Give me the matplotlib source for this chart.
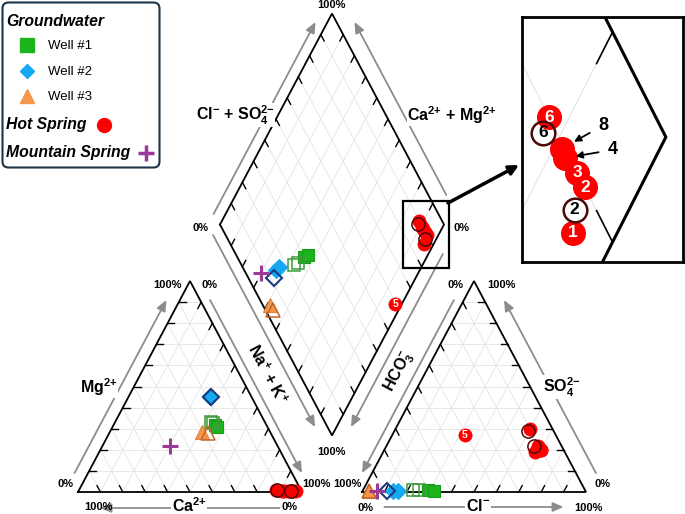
import numpy as np
import matplotlib
matplotlib.use('Agg')
import matplotlib.pyplot as plt
from matplotlib.patches import FancyBboxPatch, Rectangle

plt.rcParams['font.family'] = ['Liberation Sans', 'DejaVu Sans']
plt.rcParams['mathtext.fontset'] = 'custom'
plt.rcParams['mathtext.rm'] = 'Liberation Sans:bold'
plt.rcParams['mathtext.it'] = 'Liberation Sans:bold'
plt.rcParams['mathtext.bf'] = 'Liberation Sans:bold'
plt.rcParams['mathtext.sf'] = 'Liberation Sans:bold'
plt.rcParams['mathtext.default'] = 'rm'

# meq % ; Ca = 100 - Mg - Na(+K), HCO3 = 100 - Cl - SO4
w1_mg = [31.8, 31.0]
w1_na = [45.3, 46.5]
w1_cl = [29.0, 31.7]
w1_so4 = [1.0, 0.5]
w1o_mg = [33.2, 32.5]
w1o_na = [42.6, 44.0]
w1o_cl = [22.3, 25.0]
w1o_so4 = [1.0, 1.0]

w2_mg = [45.5, 45.0]
w2_na = [36.0, 36.5]
w2_cl = [13.8, 16.0]
w2_so4 = [0.5, 0.5]
w2o_mg = [45.0]
w2o_na = [37.0]
w2o_cl = [11.0]
w2o_so4 = [0.5]

w3_mg = [28.6]
w3_na = [41.2]
w3_cl = [2.7]
w3_so4 = [0.5]
w3o_mg = [28.0]
w3o_na = [44.0]
w3o_cl = [3.0]
w3o_so4 = [0.5]

mt_mg = [21.9]
mt_na = [30.0]
mt_cl = [6.5]
mt_so4 = [0.5]

hs_id = ['1', '2', '3', '4', '5', '6', '8']
hs_mg = [0.5, 0.5, 0.6, 0.6, 0.3, 0.8, 0.7]
hs_na = [95.8, 94.8, 93.4, 91.5, 97.0, 88.1, 90.8]
hs_cl = [67.7, 70.0, 70.0, 67.5, 32.5, 60.0, 68.7]
hs_so4 = [19.0, 20.0, 20.0, 22.0, 27.0, 30.0, 21.0]

hso_id = ['2', '6']
hso_mg = [0.5, 0.8]
hso_na = [94.9, 88.3]
hso_cl = [66.0, 59.7]
hso_so4 = [22.0, 29.0]

# geometry (side = 1, gap between triangles = G)
G = 60 / 224.0
H = np.sqrt(3) / 2
SX, SY = 224.0, 243.6


def cat_xy(mg, na):
    mg = np.asarray(mg, float) / 100
    na = np.asarray(na, float) / 100
    return na + 0.5 * mg, H * mg


def an_xy(cl, so4):
    cl = np.asarray(cl, float) / 100
    so4 = np.asarray(so4, float) / 100
    return 1 + G + cl + 0.5 * so4, H * so4


def dia_xy(na, cl, so4):
    a = np.asarray(na, float) / 100
    b = (np.asarray(cl, float) + np.asarray(so4, float)) / 100
    return (1 + G + a + b) / 2, H * (1 + G + b - a)


def c(mg, na):
    return (na + 0.5 * mg, H * mg)


def an(cl, so4):
    return (1 + G + cl + 0.5 * so4, H * so4)


def dm(na, b):
    return ((1 + G + na + b) / 2, H * (1 + G + b - na))


def draw_frame(axx, lw, glw, tlw, tl=0.03):
    grid = []
    ticks = []
    for t in np.arange(1, 10) / 10:
        grid += [(c(t, 0), c(t, 1 - t)), (c(0, t), c(1 - t, t)), (c(0, 1 - t), c(1 - t, 0)),
                 (an(0, t), an(1 - t, t)), (an(t, 0), an(t, 1 - t)), (an(1 - t, 0), an(0, 1 - t)),
                 (dm(t, 0), dm(t, 1)), (dm(0, t), dm(1, t))]
        ticks += [(c(t, 0), (1, 0)), (c(0, t), (-0.5, H)), (c(t, 1 - t), (-0.5, -H)),
                  (an(0, t), (0.5, -H)), (an(t, 0), (0.5, H)), (an(1 - t, t), (-1, 0)),
                  (dm(0, t), (0.5, -H)), (dm(t, 1), (-0.5, -H)),
                  (dm(t, 0), (0.5, H)), (dm(1, t), (-0.5, H))]
    for p, q in grid:
        axx.plot([p[0], q[0]], [p[1], q[1]], color='#e4e4e4', lw=glw, zorder=1)
    for p, v in ticks:
        axx.plot([p[0], p[0] + tl * v[0]], [p[1], p[1] + tl * v[1]], color='black', lw=tlw, zorder=2)
    for poly in ([c(0, 0), c(0, 1), c(1, 0), c(0, 0)],
                 [an(0, 0), an(1, 0), an(0, 1), an(0, 0)],
                 [dm(0, 0), dm(1, 0), dm(1, 1), dm(0, 1), dm(0, 0)]):
        xs, ys = zip(*poly)
        axx.plot(xs, ys, color='black', lw=lw, zorder=3, solid_joinstyle='miter')


def side_arrow(axx, p0, p1, off, f0, f1):
    p0 = np.array(p0)
    p1 = np.array(p1)
    off = np.array(off)
    s = p0 + f0 * (p1 - p0) + off
    e = p0 + f1 * (p1 - p0) + off
    axx.annotate('', xy=e, xytext=s,
                 arrowprops=dict(arrowstyle='-|>,head_length=0.8,head_width=0.35', color='#8c8c8c',
                                 lw=1.3, shrinkA=0, shrinkB=0, mutation_scale=8))


fig = plt.figure(figsize=(6.85, 5.14), dpi=100)
ax = fig.add_axes([0, 0, 1, 1])
ax.set_xlim(-78 / SX, (685 - 78) / SX)
ax.set_ylim(-(514 - 492) / SY, 492 / SY)
ax.axis('off')

draw_frame(ax, 1.3, 0.6, 1.0)

side_arrow(ax, c(0, 0), c(1, 0), (-13.5 / SX, 0), 0.09, 0.91)
side_arrow(ax, c(0, 1), c(0, 0), (0, -16 / SY), 0.1, 0.9)
side_arrow(ax, c(1, 0), c(0, 1), (10 / SX, 0), 0.09, 0.91)
side_arrow(ax, an(0, 1), an(0, 0), (-10 / SX, 0), 0.09, 0.91)
side_arrow(ax, an(0, 0), an(1, 0), (0, -15 / SY), 0.1, 0.9)
side_arrow(ax, an(1, 0), an(0, 1), (20 / SX, 0), 0.09, 0.91)
side_arrow(ax, dm(0, 0), dm(0, 1), (-12 / SX, 0), 0.05, 0.96)
side_arrow(ax, dm(1, 1), dm(0, 1), (18 / SX, 0), 0.14, 0.96)
side_arrow(ax, dm(0, 0), dm(1, 0), (-12.5 / SX, 0), 0.05, 0.96)
side_arrow(ax, dm(1, 1), dm(1, 0), (14.5 / SX, 0), 0.14, 0.96)

green_f = dict(marker='s', ms=8.5, mfc='#1db31d', mec='#1a9c1a', mew=0.8)
green_o = dict(marker='s', ms=8.5, mfc='none', mec='#3d9b3d', mew=1.1)
blue_f = dict(marker='D', ms=8, mfc='#14a9f0', mec='#14a9f0', mew=0.8)
blue_o = dict(marker='D', ms=8, mfc='none', mec='#1b3b7e', mew=1.5)
orange_f = dict(marker='^', ms=10, mfc='#f5964a', mec='#e4833a', mew=0.8)
orange_o = dict(marker='^', ms=10, mfc='none', mec='#c0652a', mew=1.1)
purple = dict(marker='+', ms=11, mec='#9c3996', mew=2.2)
red_f = dict(marker='o', ms=9.5, mfc='#ff0000', mec='#ff0000', mew=0.5)
red_o = dict(marker='o', ms=9.5, mfc='none', mec='#4a0a0a', mew=1.1)


def plot_group(axx, mg, na, cl, so4, style, z=5):
    for x, y in (cat_xy(mg, na), an_xy(cl, so4), dia_xy(na, cl, so4)):
        axx.plot(x, y, ls='none', zorder=z, **style)


plot_group(ax, w1_mg, w1_na, w1_cl, w1_so4, green_f)
plot_group(ax, w1o_mg, w1o_na, w1o_cl, w1o_so4, green_o, 6)
plot_group(ax, w2_mg, w2_na, w2_cl, w2_so4, blue_f)
plot_group(ax, w2o_mg, w2o_na, w2o_cl, w2o_so4, blue_o, 6)
plot_group(ax, w3_mg, w3_na, w3_cl, w3_so4, orange_f)
plot_group(ax, w3o_mg, w3o_na, w3o_cl, w3o_so4, orange_o, 6)
plot_group(ax, mt_mg, mt_na, mt_cl, mt_so4, purple, 7)
plot_group(ax, hs_mg, hs_na, hs_cl, hs_so4, red_f)
plot_group(ax, hso_mg, hso_na, hso_cl, hso_so4, red_o, 6)

i5 = hs_id.index('5')
for x, y in (an_xy(hs_cl[i5], hs_so4[i5]), dia_xy(hs_na[i5], hs_cl[i5], hs_so4[i5])):
    ax.text(x, y, hs_id[i5], color='white', fontsize=7.5, fontweight='bold',
            ha='center', va='center', zorder=8)

# overlay in pixel units: labels, legend, zoom box
lax = fig.add_axes([0, 0, 1, 1], zorder=5)
lax.set_xlim(0, 685)
lax.set_ylim(514, 0)
lax.axis('off')

axis_labels = [('Mg$^{2{+}}$', 99, 387, 0), ('Ca$^{2{+}}$', 189, 506, 0),
               ('Na$^{{+}}$ + K$^{{+}}$', 267, 374, -62), ('HCO$_3^{{-}}$', 399, 372, 62),
               ('Cl$^{{-}}$', 478, 506, 0), ('SO$_4^{2{-}}$', 562, 387, 0),
               ('Cl$^{{-}}$ + SO$_4^{2{-}}$', 235, 115, 0), ('Ca$^{2{+}}$ + Mg$^{2{+}}$', 452, 115, 0)]
for s, x, y, r in axis_labels:
    lax.text(x, y, s, fontsize=11.5, fontweight='bold', ha='center', va='center', rotation=r,
             rotation_mode='anchor', bbox=dict(fc='white', ec='none', pad=0.3))

pct_labels = [('100%', 167, 285), ('0%', 210, 285), ('0%', 66, 484), ('100%', 98, 507),
              ('0%', 290, 507), ('100%', 316, 484), ('0%', 456, 285), ('100%', 501, 285),
              ('100%', 347, 484), ('0%', 366, 508), ('100%', 588, 508), ('0%', 603, 484),
              ('100%', 331, 5), ('0%', 201, 228), ('0%', 462, 228), ('100%', 331, 452)]
for s, x, y in pct_labels:
    lax.text(x, y, s, fontsize=8, fontweight='bold', ha='center', va='center')

lax.add_patch(FancyBboxPatch((2.5, 2.5), 157, 165, boxstyle='round,pad=0,rounding_size=6',
                             fc='white', ec='#1d3446', lw=1.5))
lax.text(6, 22, 'Groundwater', fontsize=11.3, fontweight='bold', style='italic', va='center')
lax.plot(27, 45, marker='s', ms=10, color='#1db31d')
lax.text(48, 46, 'Well #1', fontsize=9.5, va='center')
lax.plot(27, 71, marker='D', ms=7.5, color='#14a9f0')
lax.text(48, 72, 'Well #2', fontsize=9.5, va='center')
lax.plot(27, 96, marker='^', ms=9.5, color='#f5964a')
lax.text(48, 97, 'Well #3', fontsize=9.5, va='center')
lax.text(6, 125, 'Hot Spring', fontsize=11.3, fontweight='bold', style='italic', va='center')
lax.plot(104, 125, marker='o', ms=10, color='#ff0000')
lax.text(6, 153, 'Mountain Spring', fontsize=11.3, fontweight='bold', style='italic', va='center')
lax.plot(146, 153, marker='+', ms=11, mec='#9c3996', mew=2.5)

lax.add_patch(Rectangle((403, 201), 46, 67, fill=False, ec='black', lw=1.6))
lax.annotate('', xy=(519, 165), xytext=(448, 203),
             arrowprops=dict(arrowstyle='-|>', color='black', lw=2.5, mutation_scale=14,
                             shrinkA=0, shrinkB=0))

# zoomed inset of the hot spring cluster
axin = fig.add_axes([522 / 685, 1 - 262 / 514, 161 / 685, 245 / 514], zorder=6)
axin.set_xlim(1.499, 1.650)
axin.set_ylim(0.995, 1.197)
axin.set_xticks([])
axin.set_yticks([])
for sp in axin.spines.values():
    sp.set_linewidth(2)
draw_frame(axin, 2.2, 0.8, 1.2)

for k in range(len(hs_id)):
    if hs_id[k] == '5':
        continue
    x, y = dia_xy(hs_na[k], hs_cl[k], hs_so4[k])
    axin.plot(x, y, marker='o', ms=17, mfc='#ff0000', mec='#ff0000', ls='none', zorder=5)
    if hs_id[k] in ('8', '4'):
        continue
    axin.text(x, y, hs_id[k], color='white', fontsize=12.5, fontweight='bold',
              ha='center', va='center', zorder=8)
for k in range(len(hso_id)):
    x, y = dia_xy(hso_na[k], hso_cl[k], hso_so4[k])
    axin.plot(x, y, marker='o', ms=17, mfc='none', mec='#4a0a0a', mew=1.8, ls='none', zorder=6)
    axin.text(x, y, hso_id[k], color='black', fontsize=12.5, fontweight='bold',
              ha='center', va='center', zorder=8)

for lab, off, shr in (('8', (30, 17), 10), ('4', (35, 6), 8)):
    k = hs_id.index(lab)
    x, y = dia_xy(hs_na[k], hs_cl[k], hs_so4[k])
    axin.annotate(lab, xy=(x, y), xytext=off, textcoords='offset points', fontsize=13,
                  fontweight='bold', ha='center', va='center', zorder=9,
                  arrowprops=dict(arrowstyle='-|>', color='black', lw=1.3, shrinkA=5,
                                  shrinkB=shr, mutation_scale=10))

fig.savefig('out.png', dpi=100)
